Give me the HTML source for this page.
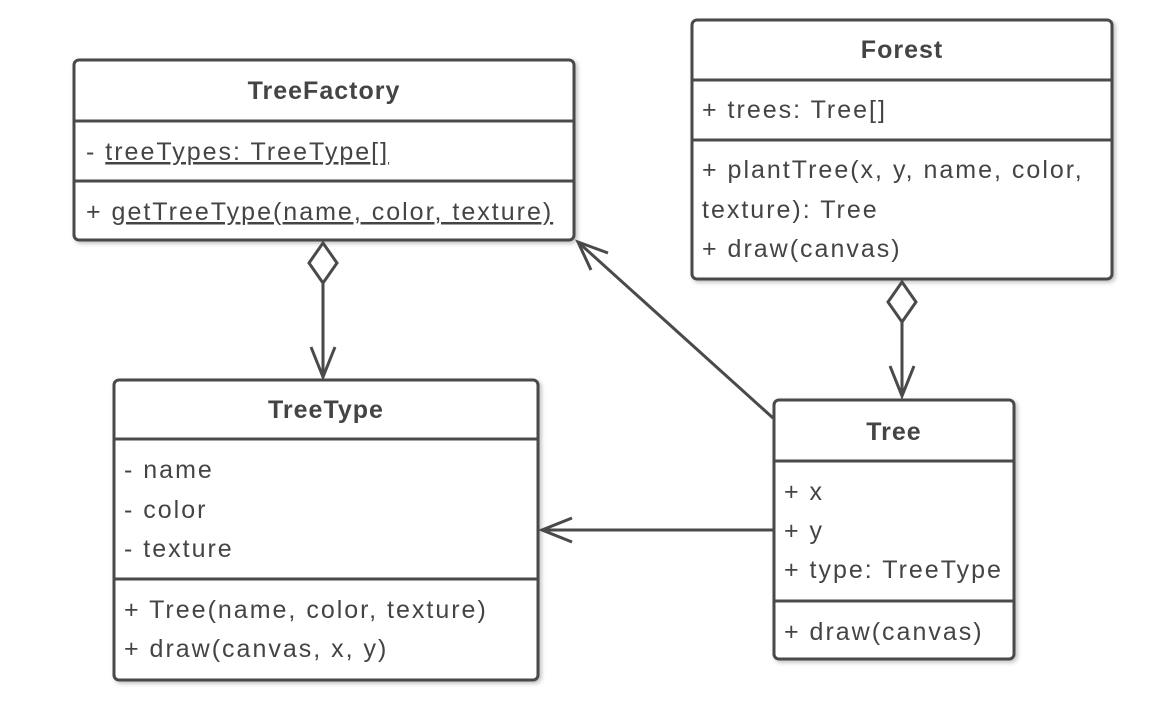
<!DOCTYPE html>
<html><head><style>body{margin:0;background:#fff}</style></head><body>
<svg width="1168" height="704" xmlns="http://www.w3.org/2000/svg" font-family="Liberation Sans, sans-serif" font-size="25" letter-spacing="2" fill="#444">
<defs><filter id="s" x="-5%" y="-5%" width="110%" height="110%"><feDropShadow dx="2" dy="2" stdDeviation="2" flood-opacity="0.25"/></filter></defs>
<g stroke="#4a4a4a" stroke-width="3" fill="#fff">
<rect x="74" y="60" width="500" height="180" rx="5" filter="url(#s)"/>
<line x1="74" y1="121" x2="574" y2="121"/><line x1="74" y1="181" x2="574" y2="181"/>
<rect x="692" y="20" width="420" height="259" rx="5" filter="url(#s)"/>
<line x1="692" y1="80" x2="1112" y2="80"/><line x1="692" y1="140" x2="1112" y2="140"/>
<rect x="114" y="380" width="424" height="300" rx="5" filter="url(#s)"/>
<line x1="114" y1="439" x2="538" y2="439"/><line x1="114" y1="579" x2="538" y2="579"/>
<rect x="774" y="400" width="240" height="259" rx="5" filter="url(#s)"/>
<line x1="774" y1="461" x2="1014" y2="461"/><line x1="774" y1="601" x2="1014" y2="601"/>
<path d="M323 243 L337 263 L323 283 L309 263 Z"/>
<line x1="323" y1="283" x2="323" y2="377"/>
<polyline points="311,347 323,377 335,347" fill="none"/>
<path d="M902 282 L916 302 L902 322 L888 302 Z"/>
<line x1="902" y1="322" x2="902" y2="396"/>
<polyline points="890,366 902,396 914,366" fill="none"/>
<line x1="773" y1="418" x2="578" y2="242"/>
<polyline points="608,253 578,242 591,270" fill="none"/>
<line x1="773" y1="530" x2="542" y2="530"/>
<polyline points="572,518 542,530 572,542" fill="none"/>
</g>
<g font-weight="bold" text-anchor="middle" font-size="25" letter-spacing="1">
<text x="324" y="99">TreeFactory</text>
<text x="902" y="58">Forest</text>
<text x="326" y="418">TreeType</text>
<text x="894" y="440">Tree</text>
</g>
<text x="86" y="160">- <tspan text-decoration="underline">treeTypes: TreeType[]</tspan></text>
<text x="86" y="220">+ <tspan text-decoration="underline">getTreeType(name, color, texture)</tspan></text>
<text x="702" y="118">+ trees: Tree[]</text>
<text x="702" y="178">+ plantTree(x, y, name, color,</text>
<text x="702" y="218">texture): Tree</text>
<text x="702" y="257">+ draw(canvas)</text>
<text x="124" y="478">- name</text>
<text x="124" y="518">- color</text>
<text x="124" y="557">- texture</text>
<text x="124" y="618">+ Tree(name, color, texture)</text>
<text x="124" y="657">+ draw(canvas, x, y)</text>
<text x="784" y="500">+ x</text>
<text x="784" y="539">+ y</text>
<text x="784" y="578">+ type: TreeType</text>
<text x="784" y="640">+ draw(canvas)</text>
</svg>
</body></html>
